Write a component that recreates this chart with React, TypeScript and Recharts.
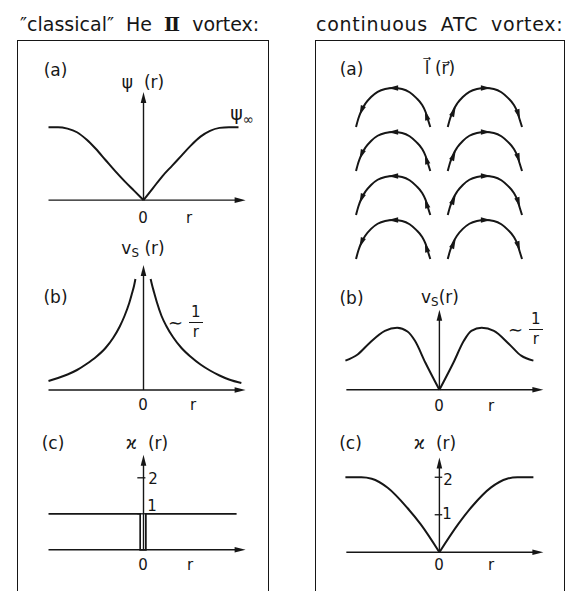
import React from 'react'
import { ComposedChart, Line, Scatter, XAxis, YAxis, ReferenceLine } from 'recharts'

// classical vortex (a): order parameter amplitude
const R_PSI_L = [-1, -0.9, -0.8, -0.7, -0.6, -0.5, -0.4, -0.3, -0.2, -0.1, 0]
const PSI_L = [1, 1, 0.98, 0.93, 0.83, 0.7, 0.55, 0.4, 0.26, 0.13, 0]
const R_PSI_R = [0, 0.1, 0.2, 0.3, 0.4, 0.5, 0.6, 0.7, 0.8, 0.9, 1]
const PSI_R = [0, 0.165, 0.33, 0.47, 0.61, 0.75, 0.87, 0.95, 0.99, 1, 1]

// classical vortex (b): superfluid velocity ~ 1/r, two branches
const R_VS_L = [-1, -0.9, -0.8, -0.7, -0.6, -0.5, -0.4, -0.32, -0.25, -0.2, -0.15, -0.12, -0.1, -0.085]
const VS_L = [0.09, 0.12, 0.155, 0.2, 0.26, 0.33, 0.42, 0.52, 0.635, 0.74, 0.87, 0.97, 1.04, 1.11]
const R_VS_R = [0.075, 0.09, 0.11, 0.14, 0.19, 0.24, 0.31, 0.4, 0.5, 0.6, 0.7, 0.8, 0.9, 1.03]
const VS_R = [1.11, 1.05, 0.98, 0.88, 0.74, 0.64, 0.53, 0.42, 0.33, 0.255, 0.195, 0.145, 0.105, 0.07]

// classical vortex (c): circulation quantum, narrow core
const R_KAPPA_CL = [-1, -0.035, -0.035, 0.025, 0.025, 0.98]
const KAPPA_CL = [1, 1, 0, 0, 1, 1]

// ATC vortex (a): l-texture arcs, one arc profile repeated on a grid
const ARC_DX = [-0.4, -0.375, -0.345, -0.3, -0.24, -0.17, -0.09, 0, 0.09, 0.17, 0.24, 0.3, 0.34, 0.365, 0.39]
const ARC_H = [0, 0.09, 0.17, 0.25, 0.32, 0.375, 0.405, 0.415, 0.405, 0.37, 0.31, 0.24, 0.16, 0.08, 0]
const ARC_COLUMNS = [-0.487, 0.489]
const ARC_ROWS = [1.404, 0.936, 0.468, 0]
// arrowheads per column: offset from arc centre, height, heading (deg, screen)
const ARROW_DX = [[-0.34, 0, 0.35], [-0.34, 0, 0.35]]
const ARROW_H = [[0.18, 0.415, 0.12], [0.16, 0.415, 0.14]]
const ARROW_ANGLE = [[112, 180, -106], [-66, 0, 72]]

// ATC vortex (b): velocity, two humps
const R_VSA_L = [-1, -0.87, -0.74, -0.58, -0.45, -0.34, -0.26, -0.15, 0]
const VSA_L = [0.47, 0.57, 0.76, 0.95, 1.0, 0.94, 0.79, 0.44, 0]
const R_VSA_R = [0, 0.15, 0.26, 0.34, 0.45, 0.58, 0.74, 0.87, 1]
const VSA_R = [0, 0.44, 0.79, 0.95, 1.0, 0.95, 0.74, 0.55, 0.47]

// ATC vortex (c): circulation rising to 2
const R_KA_L = [-1, -0.83, -0.72, -0.55, -0.34, -0.2, 0]
const KA_L = [2, 2, 1.96, 1.72, 1.18, 0.75, 0]
const R_KA_R = [0, 0.2, 0.34, 0.55, 0.72, 0.83, 1]
const KA_R = [0, 0.75, 1.2, 1.73, 1.96, 2, 2]

const KAPPA_TICKS = [1, 2]

const ink = '#161616'
const font = '"DejaVu Sans", sans-serif'

const rows = (rs: number[], ys: number[]) => rs.map((r, i) => ({ r, y: ys[i] }))

function ArrowShape(props: any) {
  const { x1, y1, x2, y2 } = props
  const a = Math.atan2(y2 - y1, x2 - x1)
  const L = 11
  const W = 2.8
  const bx = x2 - L * Math.cos(a)
  const by = y2 - L * Math.sin(a)
  const px = -Math.sin(a) * W
  const py = Math.cos(a) * W
  return (
    <g>
      <line x1={x1} y1={y1} x2={bx + Math.cos(a) * 2} y2={by + Math.sin(a) * 2} stroke={ink} strokeWidth={1.4} />
      <polygon points={`${x2},${y2} ${bx + px},${by + py} ${bx - px},${by - py}`} fill={ink} />
    </g>
  )
}

function ArcHead(props: any) {
  const { cx, cy, payload } = props
  return (
    <polygon
      points="5.5,0 -4.5,-2.7 -4.5,2.7"
      fill={ink}
      transform={`translate(${cx},${cy}) rotate(${payload.angle})`}
    />
  )
}

function Curve({ data, width = 2 }: { data: any[]; width?: number }) {
  return (
    <Line
      data={data}
      dataKey="y"
      type="monotone"
      stroke={ink}
      strokeWidth={width}
      dot={false}
      isAnimationActive={false}
    />
  )
}

function Plot({ x0, sx, y0, sy, xDom, yDom, children }: any) {
  const left = x0 + xDom[0] * sx
  const width = (xDom[1] - xDom[0]) * sx
  const top = y0 - yDom[1] * sy
  const height = (yDom[1] - yDom[0]) * sy
  return (
    <div style={{ position: 'absolute', left, top }}>
      <ComposedChart width={width} height={height} margin={{ top: 0, right: 0, bottom: 0, left: 0 }}>
        <XAxis type="number" dataKey="r" domain={xDom} hide allowDataOverflow />
        <YAxis type="number" domain={yDom} hide allowDataOverflow />
        {children}
      </ComposedChart>
    </div>
  )
}

function Axes({ xEnd, yEnd, xStart = -1 }: { xEnd: number; yEnd: number; xStart?: number }) {
  return (
    <>
      <ReferenceLine segment={[{ x: xStart, y: 0 }, { x: xEnd, y: 0 }]} shape={ArrowShape} />
      <ReferenceLine segment={[{ x: 0, y: 0 }, { x: 0, y: yEnd }]} shape={ArrowShape} />
    </>
  )
}

function T({ x, y, size = 16, left = false, children }: any) {
  return (
    <div
      style={{
        position: 'absolute',
        left: x,
        top: y,
        fontSize: size,
        lineHeight: 1,
        whiteSpace: 'nowrap',
        transform: left ? 'translate(0,-50%)' : 'translate(-50%,-50%)',
      }}
    >
      {children}
    </div>
  )
}

function OneOverR({ x, y }: { x: number; y: number }) {
  return (
    <div style={{ position: 'absolute', left: x, top: y, display: 'flex', alignItems: 'center', fontSize: 15, lineHeight: 1 }}>
      <span style={{ fontSize: 18, marginRight: 4 }}>∼</span>
      <span style={{ display: 'inline-flex', flexDirection: 'column', alignItems: 'center' }}>
        <span style={{ padding: '0 4px 2px' }}>1</span>
        <span style={{ borderTop: `1.5px solid ${ink}`, padding: '2px 4px 0' }}>r</span>
      </span>
    </div>
  )
}

const Sub = ({ children }: any) => (
  <span style={{ fontSize: '0.7em', verticalAlign: '-0.3em' }}>{children}</span>
)

export default function App() {
  const box = {
    position: 'absolute' as const,
    top: 40,
    height: 560,
    borderLeft: `1.6px solid ${ink}`,
    borderRight: `1.6px solid ${ink}`,
    borderTop: `1.6px solid ${ink}`,
  }

  const arcs = ARC_COLUMNS.flatMap((c) =>
    ARC_ROWS.map((b) => ARC_DX.map((dx, i) => ({ r: c + dx, y: b + ARC_H[i] })))
  )
  const heads = ARC_COLUMNS.flatMap((c, ci) =>
    ARC_ROWS.flatMap((b) =>
      ARROW_DX[ci].map((dx, k) => ({ r: c + dx, v: b + ARROW_H[ci][k], angle: ARROW_ANGLE[ci][k] }))
    )
  )

  return (
    <div style={{ position: 'absolute', left: 0, top: 0, width: 568, height: 591, background: '#fff', overflow: 'hidden', fontFamily: font, color: ink }}>
      <T x={20} y={24} size={19} left>
        <span style={{ wordSpacing: 6 }}>
          ″classical″ He <span style={{ fontFamily: '"DejaVu Serif", serif', fontWeight: 'bold' }}>Ⅱ</span> vortex:
        </span>
      </T>
      <T x={316} y={24} size={19} left>
        <span style={{ wordSpacing: 6, letterSpacing: 0.75 }}>continuous ATC vortex:</span>
      </T>

      <div style={{ ...box, left: 17, width: 250 }} />
      <div style={{ ...box, left: 315, width: 248 }} />

      {/* left column */}
      <Plot x0={143} sx={95} y0={200} sy={73} xDom={[-1.1, 1.15]} yDom={[-0.15, 1.55]}>
        <Axes xEnd={1.075} yEnd={1.48} />
        <Curve data={rows(R_PSI_L, PSI_L)} />
        <Curve data={rows(R_PSI_R, PSI_R)} />
      </Plot>
      <T x={55.5} y={70} size={17}>(a)</T>
      <T x={143} y={82} size={17}>ψ&nbsp;&nbsp;(r)</T>
      <T x={242} y={115} size={19}>ψ<Sub>∞</Sub></T>
      <T x={143} y={218} size={15}>0</T>
      <T x={189} y={218} size={15}>r</T>

      <Plot x0={143} sx={95} y0={390} sy={100} xDom={[-1.1, 1.15]} yDom={[-0.1, 1.35]}>
        <Axes xEnd={1.075} yEnd={1.25} />
        <Curve data={rows(R_VS_L, VS_L)} />
        <Curve data={rows(R_VS_R, VS_R)} />
      </Plot>
      <T x={55.5} y={297} size={17}>(b)</T>
      <T x={143} y={250} size={17}>v<Sub>S</Sub> (r)</T>
      <OneOverR x={168} y={305} />
      <T x={143} y={405} size={15}>0</T>
      <T x={193} y={405} size={15}>r</T>

      <Plot x0={143} sx={95} y0={550} sy={36} xDom={[-1.1, 1.15]} yDom={[-0.3, 2.8]}>
        <Axes xEnd={1.075} yEnd={2.64} />
        {KAPPA_TICKS.map((k) => (
          <ReferenceLine key={k} segment={[{ x: -0.065, y: k }, { x: 0.02, y: k }]} stroke={ink} strokeWidth={1.3} />
        ))}
        <Line
          data={rows(R_KAPPA_CL, KAPPA_CL)}
          dataKey="y"
          type="linear"
          stroke={ink}
          strokeWidth={1.7}
          dot={false}
          isAnimationActive={false}
        />
      </Plot>
      <T x={53} y={443} size={17}>(c)</T>
      <T x={147} y={443} size={17}>ϰ&nbsp;&nbsp;(r)</T>
      <T x={153} y={479} size={15}>2</T>
      <T x={152} y={506} size={15}>1</T>
      <T x={143} y={565} size={15}>0</T>
      <T x={190} y={565} size={15}>r</T>

      {/* right column */}
      <Plot x0={439} sx={94} y0={259} sy={94} xDom={[-1.1, 1.15]} yDom={[-0.1, 2.0]}>
        {arcs.map((d, i) => (
          <Line key={i} data={d} dataKey="y" type="monotone" stroke={ink} strokeWidth={2} dot={false} isAnimationActive={false} />
        ))}
        <Scatter data={heads} dataKey="v" shape={ArcHead} isAnimationActive={false} />
      </Plot>
      <T x={351.5} y={69} size={17}>(a)</T>
      <T x={440} y={68} size={17}>l⃗ (r⃗)</T>

      <Plot x0={439} sx={94} y0={390} sy={62} xDom={[-1.1, 1.15]} yDom={[-0.2, 1.4]}>
        <Axes xEnd={1.106} yEnd={1.29} xStart={-0.99} />
        <Curve data={rows(R_VSA_L, VSA_L)} />
        <Curve data={rows(R_VSA_R, VSA_R)} />
      </Plot>
      <T x={351.5} y={298} size={17}>(b)</T>
      <T x={440} y={299} size={17}>v<Sub>S</Sub>(r)</T>
      <OneOverR x={508} y={312} />
      <T x={439} y={406} size={15}>0</T>
      <T x={491} y={406} size={15}>r</T>

      <Plot x0={439} sx={94} y0={552} sy={37.5} xDom={[-1.1, 1.15]} yDom={[-0.3, 2.7]}>
        <Axes xEnd={1.106} yEnd={2.53} xStart={-0.99} />
        {KAPPA_TICKS.map((k) => (
          <ReferenceLine key={k} segment={[{ x: -0.05, y: k }, { x: 0.03, y: k }]} stroke={ink} strokeWidth={1.3} />
        ))}
        <Curve data={rows(R_KA_L, KA_L)} />
        <Curve data={rows(R_KA_R, KA_R)} />
      </Plot>
      <T x={350.5} y={443} size={17}>(c)</T>
      <T x={435} y={443} size={17}>ϰ&nbsp;&nbsp;(r)</T>
      <T x={448} y={480} size={15}>2</T>
      <T x={447} y={514} size={15}>1</T>
      <T x={439} y={565} size={15}>0</T>
      <T x={491} y={565} size={15}>r</T>
    </div>
  )
}
